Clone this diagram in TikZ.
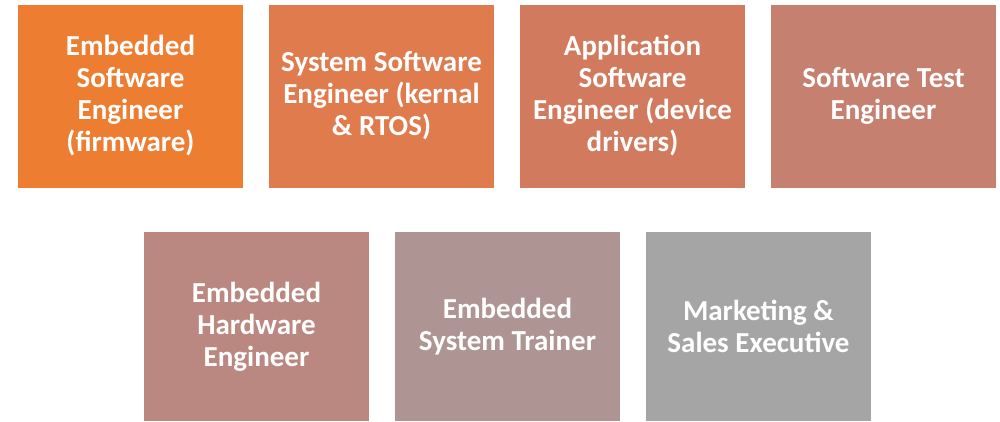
\documentclass[tikz,border=0pt]{standalone}
\usepackage{fontspec}
\setmainfont{Carlito}
\definecolor{c1}{RGB}{237,125,49}
\definecolor{c2}{RGB}{224,123,77}
\definecolor{c3}{RGB}{210,122,93}
\definecolor{c4}{RGB}{197,128,111}
\definecolor{c5}{RGB}{186,136,128}
\definecolor{c6}{RGB}{174,148,147}
\definecolor{c7}{RGB}{165,165,165}
\begin{document}
\begin{tikzpicture}[x=1pt,y=-1pt,
  box/.style={draw=white,line width=0.6pt,minimum width=226pt,inner sep=0pt,
    text=white,font=\bfseries\fontsize{29}{32}\selectfont,align=center,text width=220pt,
    execute at begin node={\spaceskip=0.23em\relax}}]
\useasboundingbox (0,0) rectangle (1000,422);
\node[box,fill=c1,minimum height=184pt] (a) at (130.5,96) {Embedded\\Software\\Engineer\\(firmware)};
\node[box,fill=c2,minimum height=184pt] (b) at (381.5,96) {System Software\\Engineer (kernal\\\& RTOS)};
\node[box,fill=c3,minimum height=184pt] (c) at (632.5,96) {Application\\Software\\Engineer (device\\drivers)};
\node[box,fill=c4,minimum height=184pt] (d) at (883.5,96) {Software Test\\Engineer};
\node[box,fill=c5,minimum height=190pt] (e) at (256.5,326.5) {Embedded\\Hardware\\Engineer};
\node[box,fill=c6,minimum height=190pt] (f) at (507.5,326.5) {Embedded\\System Trainer};
\node[box,fill=c7,minimum height=190pt] (g) at (758.5,326.5) {Marketing \&\\Sales Executive};
\end{tikzpicture}
\end{document}
